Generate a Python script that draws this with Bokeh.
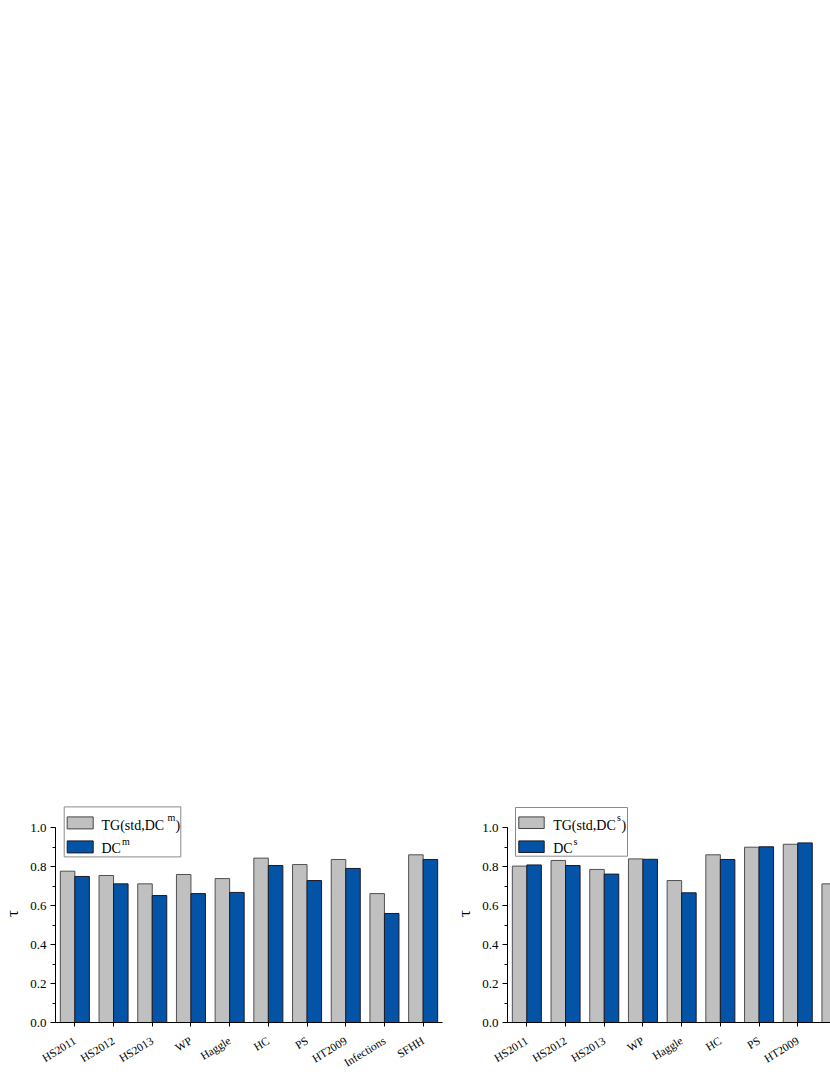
import numpy as np
from bokeh.plotting import figure
from bokeh.layouts import row
from bokeh.models import FixedTicker, SingleIntervalTicker, PrintfTickFormatter, Label, Range1d
from bokeh.embed import file_html
from bokeh.resources import INLINE

# ---------------- data ----------------
datasets_m = ["HS2011", "HS2012", "HS2013", "WP", "Haggle", "HC", "PS", "HT2009", "Infections", "SFHH"]
tg_m = [0.776, 0.754, 0.711, 0.759, 0.738, 0.843, 0.810, 0.836, 0.661, 0.860]
dc_m = [0.749, 0.711, 0.651, 0.661, 0.667, 0.805, 0.728, 0.790, 0.559, 0.836]

datasets_s = ["HS2011", "HS2012", "HS2013", "WP", "Haggle", "HC", "PS", "HT2009", "Infections"]
tg_s = [0.802, 0.831, 0.785, 0.839, 0.728, 0.860, 0.899, 0.914, 0.711]
dc_s = [0.808, 0.805, 0.761, 0.837, 0.665, 0.836, 0.901, 0.921, 0.660]

y_label = "τ"

# ---------------- style ----------------
FONT = "Liberation Serif"
GRAY = "#C0C0C0"
BLUE = "#0353A6"
BAR_W = 0.375
SP = 38.7          # pixels per category
YS = 195.0         # pixels per unit of tau
FRAME_H = 218
Y_END = FRAME_H / YS
TOP_B = 804
BOT_B = 53
X_ANGLE = 0.55
X_STANDOFF = 13
X_TICK_OUT = 4
X_FONT = "11.5px"


def make_panel(names, tg, dc, frame_w, x_end, left_border, right_border, sup, leg):
    p = figure(width=left_border + frame_w + right_border, height=TOP_B + FRAME_H + BOT_B,
               frame_width=frame_w, frame_height=FRAME_H,
               x_range=Range1d(-0.5, x_end), y_range=Range1d(0, Y_END),
               output_backend="svg", toolbar_location=None,
               min_border_left=left_border, min_border_right=right_border,
               min_border_top=TOP_B, min_border_bottom=BOT_B)
    p.outline_line_color = None
    p.xgrid.visible = False
    p.ygrid.visible = False
    p.background_fill_color = "white"

    x = np.arange(len(names))
    p.vbar(x=x - BAR_W / 2, top=tg, bottom=0, width=BAR_W,
           fill_color=GRAY, line_color="#505050", line_width=1)
    p.vbar(x=x + BAR_W / 2, top=dc, bottom=0, width=BAR_W,
           fill_color=BLUE, line_color="#1a1a2a", line_width=1)

    # axes
    xa = p.xaxis[0]
    xa.ticker = FixedTicker(ticks=list(range(len(names))), minor_ticks=[])
    xa.major_label_overrides = {i: n for i, n in enumerate(names)}
    xa.major_label_orientation = X_ANGLE
    xa.major_label_text_font = FONT
    xa.major_label_text_font_size = X_FONT
    xa.major_label_text_color = "black"
    xa.major_tick_in = 0
    xa.major_tick_out = X_TICK_OUT
    xa.major_label_standoff = X_STANDOFF
    xa.axis_line_color = "black"
    xa.major_tick_line_color = "black"

    ya = p.yaxis[0]
    ya.ticker = SingleIntervalTicker(interval=0.2, num_minor_ticks=2)
    ya.formatter = PrintfTickFormatter(format="%.1f")
    ya.bounds = (0, 1)
    ya.major_label_text_font = FONT
    ya.major_label_text_font_size = "13px"
    ya.major_label_text_color = "black"
    ya.major_tick_in = 0
    ya.major_tick_out = 5
    ya.minor_tick_in = 0
    ya.minor_tick_out = 3
    ya.major_label_standoff = 4
    ya.axis_line_color = "black"
    ya.major_tick_line_color = "black"
    ya.minor_tick_line_color = "black"
    ya.axis_label = y_label
    ya.axis_label_text_font = FONT
    ya.axis_label_text_font_style = "normal"
    ya.axis_label_text_font_size = "17px"
    ya.axis_label_text_color = "black"
    ya.axis_label_standoff = 5

    # legend drawn by hand (pixel offsets from the frame's left edge / above the x-axis)
    def dx(px):
        return px / SP - 0.5

    def dy(py):
        return py / YS

    bl, br, bt, bb = leg["box"]
    p.quad(left=dx(bl), right=dx(br), top=dy(bt), bottom=dy(bb),
           fill_color="white", line_color="#8a8a8a", line_width=1)
    pl, pr = leg["patch_x"]
    (g_t, g_b), (b_t, b_b) = leg["patch_y"]
    p.quad(left=dx(pl), right=dx(pr), top=dy(g_t), bottom=dy(g_b),
           fill_color=GRAY, line_color="#444444", line_width=1)
    p.quad(left=dx(pl), right=dx(pr), top=dy(b_t), bottom=dy(b_b),
           fill_color=BLUE, line_color="#1a1a2a", line_width=1)

    tx = leg["text_x"]
    c1, c2 = leg["center"]
    s1x, s2x, parx = leg["sup_x"]
    lab = dict(text_font=FONT, text_color="black", text_baseline="middle")
    p.add_layout(Label(x=dx(tx), y=dy(c1), text="TG(std,DC", text_font_size="14px", **lab))
    p.add_layout(Label(x=dx(s1x), y=dy(c1 + 8), text=sup, text_font_size="10px", **lab))
    p.add_layout(Label(x=dx(parx), y=dy(c1), text=")", text_font_size="14px", **lab))
    p.add_layout(Label(x=dx(tx), y=dy(c2), text="DC", text_font_size="14px", **lab))
    p.add_layout(Label(x=dx(s2x), y=dy(c2 + 7), text=sup, text_font_size="10px", **lab))
    return p


# legend geometry in px: x from the frame's left edge, y above the x-axis
leg_m = dict(box=(8.7, 125.3, 215.6, 165.6), patch_x=(11.7, 37.7),
             patch_y=((205.6, 193.6), (181.6, 169.6)),
             text_x=46, center=(197.5, 174), sup_x=(112, 66.5, 120))
leg_s = dict(box=(8, 120, 215, 166.3), patch_x=(11.3, 36.7),
             patch_y=((205.6, 194), (181.6, 170)),
             text_x=45.7, center=(197.5, 174), sup_x=(109.5, 66, 114))

p1 = make_panel(datasets_m, tg_m, dc_m, 387, 9.5, 54, 10, "m", leg_m)
# the right panel is cut by the page edge, as in the original figure
p2 = make_panel(datasets_s, tg_s, dc_s, 324, -0.5 + 324 / SP, 55, 0, "s", leg_s)

layout = row(p1, p2)
open("out.html", "w").write(file_html(layout, INLINE))
